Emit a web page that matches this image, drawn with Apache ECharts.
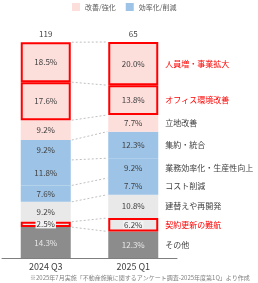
<!DOCTYPE html>
<html><head><meta charset="utf-8">
<script src="https://cdn.jsdelivr.net/npm/echarts@6/dist/echarts.min.js"></script>
<style>html,body{margin:0;padding:0;background:#fff}#c{width:258px;height:283px}</style>
</head><body><div id="c"></div>
<script>
var periods = ['2024 Q3', '2025 Q1'];
var totals = [119, 65];
var cats = ['その他', '契約更新の難航', '建替えや再開発', 'コスト削減', '業務効率化・生産性向上', '集約・統合', '立地改善', 'オフィス環境改善', '人員増・事業拡大'];
var q3 = [14.3, 2.5, 9.2, 7.6, 11.8, 9.2, 9.2, 17.6, 18.5];
var q1 = [12.3, 6.2, 10.8, 7.7, 9.2, 12.3, 7.7, 13.8, 20.0];
var groups = ['other', 'light', 'light', 'eff', 'eff', 'eff', 'imp', 'imp', 'imp'];
var highlight = [false, true, false, false, false, false, false, true, true];
var legendNames = ['改善/強化', '効率化/削減'];
var footnote = '※2025年7月実施「不動産施策に関するアンケート調査-2025年度第1Q」より作成';

var FONT = '"Noto Sans CJK JP", "Noto Sans", sans-serif';
var colorMap = {other: '#8c8c8c', light: '#e9e9e9', eff: '#9dc3e6', imp: '#fcdedb'};
var BAR_W = 50;

var chart = echarts.init(document.getElementById('c'), null, {renderer: 'canvas'});

var series = cats.map(function (c, i) {
  var d = [q3[i], q1[i]].map(function (v) {
    var o = {value: v};
    if (highlight[i]) o.itemStyle = {borderColor: '#ff0000', borderWidth: 2};
    return o;
  });
  return {
    type: 'bar', name: c, stack: 'a', barWidth: BAR_W, data: d,
    z: highlight[i] ? 3 : 2,
    itemStyle: {color: colorMap[groups[i]]},
    label: {
      show: true, position: 'inside', fontFamily: FONT, fontSize: 8,
      color: groups[i] === 'other' ? '#e8e8e8' : '#404040',
      backgroundColor: (highlight[i] && groups[i] === 'light') ? '#f2f2f2' : 'transparent',
      padding: [0, 1],
      formatter: function (p) { return p.value.toFixed(1) + '%'; }
    },
    labelLayout: {hideOverlap: false},
    emphasis: {disabled: true}, animation: false
  };
});

series.push({type: 'bar', name: legendNames[0], stack: 'a', data: [], itemStyle: {color: colorMap.imp}});
series.push({type: 'bar', name: legendNames[1], stack: 'a', data: [], itemStyle: {color: colorMap.eff}});

function cum(arr, i) { var s = 0; for (var k = 0; k <= i; k++) s += arr[k]; return s; }

series.push({
  type: 'custom', silent: true, animation: false, clip: false, z: 5,
  data: cats.map(function (c, i) { return [0, i]; }),
  renderItem: function (params, api) {
    var i = params.dataIndex;
    var c1 = cum(q3, i), c2 = cum(q1, i);
    var p1 = api.coord([0, c1]);
    var p2 = api.coord([1, c2]);
    var pm = api.coord([1, c2 - q1[i] / 2]);
    var children = [
      {type: 'line', shape: {x1: p1[0] + BAR_W / 2 + 1, y1: p1[1], x2: p2[0] - BAR_W / 2 - 1, y2: p2[1]},
       style: {stroke: '#bfbfbf', lineWidth: 1, lineDash: [2, 2]}},
      {type: 'text', x: pm[0] + BAR_W / 2 + 7, y: pm[1],
       style: {text: cats[i], fill: highlight[i] ? '#ff0000' : '#404040', font: '8px ' + FONT, verticalAlign: 'middle', align: 'left'}}
    ];
    return {type: 'group', children: children};
  }
});

series.push({
  type: 'custom', silent: true, animation: false, clip: false, z: 5,
  data: totals.map(function (t, i) { return [i, 100]; }),
  renderItem: function (params, api) {
    var p = api.coord([params.dataIndex, 100]);
    return {type: 'text', x: p[0], y: p[1] - 4,
      style: {text: String(totals[params.dataIndex]), fill: '#404040', font: '8px ' + FONT, align: 'center', verticalAlign: 'bottom'}};
  }
});

chart.setOption({
  animation: false,
  textStyle: {fontFamily: FONT},
  legend: {
    data: legendNames, left: 72, top: 3, padding: 0, itemWidth: 8, itemHeight: 8, itemGap: 10, icon: 'rect',
    textStyle: {fontSize: 7, color: '#595959', fontFamily: FONT}, selectedMode: false
  },
  grid: {left: 2, right: 81, top: 42, bottom: 25, containLabel: false},
  xAxis: {
    type: 'category', data: periods,
    axisLine: {lineStyle: {color: '#7f7f7f', width: 1}},
    axisTick: {show: false},
    axisLabel: {fontSize: 9, color: '#404040', margin: 4, fontFamily: FONT}
  },
  yAxis: {type: 'value', min: 0, max: 100, show: false},
  graphic: [{
    type: 'text', left: 30, top: 275,
    style: {text: footnote, fill: '#7f7f7f', font: '6px ' + FONT}
  }],
  series: series
});
</script></body></html>
